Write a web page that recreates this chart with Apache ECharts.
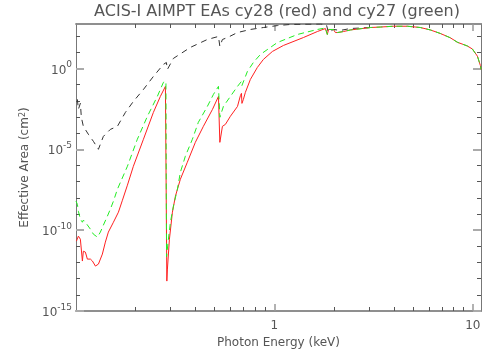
<!DOCTYPE html>
<html><head><meta charset="utf-8">
<script src="https://cdn.jsdelivr.net/npm/echarts@6/dist/echarts.min.js"></script>
<style>html,body{margin:0;padding:0;background:#fff}#c{width:504px;height:360px}</style>
</head><body><div id="c"></div>
<script>
const FONT = 'DejaVu Sans';
const TXT = '#555';
const titleText = 'ACIS-I AIMPT EAs cy28 (red) and cy27 (green)';
const xAxisName = 'Photon Energy (keV)';
const yAxisName = 'Effective Area (cm{s|2})';

const xRange = [0.1, 11];
const yRange = [1e-15, 560];
const xLabelTicks = [1, 10];
const xMinorTicks = [0.2,0.3,0.4,0.5,0.6,0.7,0.8,0.9,2,3,4,5,6,7,8,9];
const yLabelTicks = [1e-15, 1e-10, 1e-5, 1];
const yMinorTicks = [1e-14,1e-13,1e-12,1e-11,1e-9,1e-8,1e-7,1e-6,1e-4,1e-3,1e-2,1e-1,10,100];

// cy28 (red, solid)
const energyRed = [0.1005,0.1028,0.1052,0.1077,0.1089,0.1115,0.1141,0.1182,0.1210,0.1253,0.1297,0.1358,0.1406,0.1456,0.1544,0.1580,0.1636,0.1714,0.1816,0.1946,0.2187,0.2455,0.2662,0.2823,0.2855,0.2870,0.2889,0.2957,0.3062,0.3170,0.3358,0.3640,0.3995,0.4386,0.4875,0.5225,0.5284,0.5310,0.5470,0.5663,0.6000,0.6516,0.6745,0.6823,0.6862,0.698,0.714,0.7568,0.8204,0.880,0.977,1.110,1.400,1.647,1.807,1.840,1.849,1.872,1.983,2.03,2.078,2.228,2.415,3.048,3.42,3.98,4.68,5.445,6.11,6.865,7.71,8.36,9.39,9.95,10.55,10.92,11.0];
const areaRed = [2.09e-11,4.27e-11,2.75e-11,1.23e-12,5.0e-12,4.37e-12,1.62e-12,1.62e-12,1.23e-12,6.0e-13,7.94e-13,3.31e-12,1.82e-11,7.59e-11,3.09e-10,3.63e-10,1.29e-9,7.1e-9,6.03e-8,8.91e-7,4.17e-5,1.91e-3,1.86e-2,7.76e-2,0.102,7.08e-14,3.89e-13,2.75e-11,1.29e-9,1.26e-8,1.41e-7,1.58e-6,2.69e-5,2.63e-4,2.95e-3,1.86e-2,2.14e-2,2.69e-5,2.63e-4,3.47e-4,1.10e-3,4.47e-3,2.14e-2,2.88e-2,6.9e-3,1.23e-2,3.3e-2,0.209,1.15,3.6,11.2,26.3,81.3,192,294,316,126,257,257,166,166,191,240,339,363,407,407,339,240,145,78.5,41.7,24.5,15.9,5.75,1.53,0.87];

// cy27 (green, dashed)
const energyGreen = [0.1000,0.1016,0.1028,0.1052,0.1077,0.1089,0.1115,0.1141,0.1182,0.1224,0.1282,0.1327,0.1374,0.1439,0.1490,0.1544,0.1617,0.1816,0.2038,0.2290,0.2570,0.2758,0.2840,0.2860,0.2923,0.2992,0.3097,0.3244,0.3358,0.3557,0.3860,0.4137,0.4593,0.4931,0.5225,0.5284,0.5310,0.5534,0.6000,0.6516,0.6823,0.6862,0.698,0.7311,0.7834,0.8497,1.035,1.306,1.647,1.807,1.840,1.849,1.872,1.983,2.03,2.078,2.228,2.415,3.048,3.42,3.98,4.68,5.445,6.11,6.865,7.71,8.36,9.39,9.95,10.55,10.92,11.0];
const areaGreen = [6.17e-9,3.98e-9,1.48e-9,4.79e-10,3.09e-10,4.17e-10,3.09e-10,2.34e-10,1.15e-10,5.62e-11,3.72e-11,7.59e-11,2.04e-10,7.24e-10,2.0e-9,6.17e-9,3.39e-8,8.91e-7,4.17e-5,1.10e-3,1.86e-2,0.138,0.158,2.3e-12,2.75e-11,3.09e-10,3.02e-9,3.39e-8,3.80e-7,3.72e-6,4.17e-5,4.68e-4,4.47e-3,2.51e-2,7.76e-2,8.9e-2,9.5e-4,4.47e-3,1.86e-2,7.76e-2,0.158,8.9e-2,0.118,0.653,2.34,7.3,40,126,257,316,339,126,257,257,166,166,191,240,339,363,407,407,339,240,145,78.5,41.7,24.5,15.9,5.75,1.53,0.87];

// reference curve (black, dashed)
const energyBlack = [0.1016,0.1028,0.1052,0.1064,0.1089,0.1154,0.1224,0.1297,0.1374,0.1490,0.1617,0.1774,0.1946,0.2187,0.2455,0.2758,0.2855,0.2889,0.3097,0.3772,0.4593,0.5225,0.5310,0.5470,0.5794,0.6516,0.7568,0.880,1.035,1.204,1.706,1.828,1.872,1.983,2.151,2.415,3.048];
const areaBlack = [0.0123,2.95e-3,6.92e-3,9.5e-4,2.63e-4,8.5e-5,3.09e-5,1.0e-5,6.3e-5,1.7e-4,2.63e-4,1.91e-3,9.1e-3,0.050,0.32,1.78,2.34,0.87,4.17,20,61.7,95,22.9,61.7,81,166,257,339,447,525,562,525,166,257,224,295,339];

function pairs(xs, ys) { return xs.map((x, i) => [x, ys[i]]); }

const supFmt = v => {
  const e = Math.round(Math.log10(v));
  return '{b|10}{s|' + e + '}';
};
const labelRich = {
  b: { fontSize: 12, fontFamily: FONT, color: TXT, lineHeight: 16, verticalAlign: 'bottom' },
  s: { fontSize: 9, fontFamily: FONT, color: TXT, lineHeight: 12, verticalAlign: 'top' }
};

function xAx(pos, ticks, len, color, width, withLabels) {
  return {
    type: 'log', logBase: 10, min: xRange[0], max: xRange[1], position: pos,
    axisLine: { show: true, lineStyle: { color: '#888', width: 1.5 } },
    axisTick: { show: true, inside: true, length: len, customValues: ticks, lineStyle: { color: color, width: width } },
    axisLabel: withLabels ? { show: true, customValues: xLabelTicks, margin: 9, fontSize: 12, fontFamily: FONT, color: TXT,
      formatter: v => String(Math.round(v)) } : { show: false },
    splitLine: { show: false }, minorTick: { show: false },
    name: withLabels ? xAxisName : '', nameLocation: 'middle', nameGap: 22,
    nameTextStyle: { fontSize: 12, fontFamily: FONT, color: TXT }
  };
}
function yAx(pos, ticks, len, color, width, withLabels) {
  return {
    type: 'log', logBase: 10, min: yRange[0], max: yRange[1], position: pos,
    axisLine: { show: true, lineStyle: { color: '#777', width: 1 } },
    axisTick: { show: true, inside: true, length: len, customValues: ticks, lineStyle: { color: color, width: width } },
    axisLabel: withLabels ? { show: true, customValues: yLabelTicks, margin: 4, formatter: supFmt, rich: labelRich, lineHeight: 20 } : { show: false },
    splitLine: { show: false }, minorTick: { show: false },
    name: withLabels ? yAxisName : '', nameLocation: 'middle', nameGap: 42, nameRotate: 90,
    nameTextStyle: { fontSize: 12, fontFamily: FONT, color: TXT,
      rich: { s: { fontSize: 8, fontFamily: FONT, color: TXT, verticalAlign: 'top', lineHeight: 8 } } }
  };
}

const chart = echarts.init(document.getElementById('c'), null, { renderer: 'canvas' });
chart.setOption({
  animation: false,
  backgroundColor: '#fff',
  grid: { left: 76, right: 23, top: 24, bottom: 49, containLabel: false },
  graphic: [{
    type: 'text', x: 277, y: 12,
    style: { text: titleText, fontSize: 16, fontFamily: FONT, fill: TXT, align: 'center', verticalAlign: 'middle' }
  }],
  xAxis: [
    xAx('bottom', xMinorTicks, 4, '#555', 1, true),
    xAx('bottom', xLabelTicks, 7, '#999', 1.5, false),
    xAx('top', xMinorTicks, 4, '#555', 1, false),
    xAx('top', xLabelTicks, 7, '#999', 1.5, false)
  ],
  yAxis: [
    yAx('left', yMinorTicks, 4, '#555', 1, true),
    yAx('left', yLabelTicks, 8, '#aaa', 2, false),
    yAx('right', yMinorTicks, 4, '#555', 1, false),
    yAx('right', yLabelTicks, 8, '#aaa', 2, false)
  ],
  series: [
    { type: 'line', name: 'reference', data: pairs(energyBlack, areaBlack), showSymbol: false, symbol: 'none',
      lineStyle: { color: '#333', width: 1, type: [6, 5] }, clip: true },
    { type: 'line', name: 'cy28', data: pairs(energyRed, areaRed), showSymbol: false, symbol: 'none',
      lineStyle: { color: '#ff2020', width: 1 }, clip: true },
    { type: 'line', name: 'cy27', data: pairs(energyGreen, areaGreen), showSymbol: false, symbol: 'none',
      lineStyle: { color: '#22ee22', width: 1, type: [6, 4] }, clip: true }
  ]
});
</script></body></html>
